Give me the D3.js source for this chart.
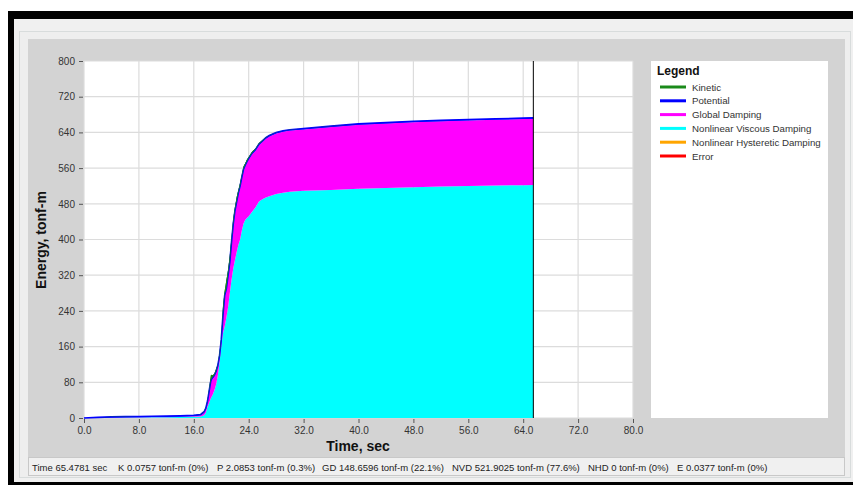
<!DOCTYPE html>
<html>
<head>
<meta charset="utf-8">
<script src="https://cdn.jsdelivr.net/npm/d3@7"></script>
<style>
  html, body { margin: 0; padding: 0; background: #ffffff; }
  svg { display: block; font-family: "Liberation Sans", Arial, sans-serif; }
</style>
</head>
<body>
<svg id="chart" width="853" height="485"></svg>
<script>
// ---------------- data ----------------
const time = [0,2,4,6,8,10,12,14,16,17,17.5,17.75,18,18.25,18.5,18.75,19,19.25,19.5,19.75,20,20.25,20.5,20.75,21,21.25,21.5,21.75,22,22.25,22.5,22.75,23,23.25,23.5,23.75,24,24.5,25,25.5,26,26.5,27,28,29,30,32,36,40,44,48,52,56,60,64,65.4781];
// Nonlinear Viscous Damping (cumulative, tonf-m)
const nvd = [0,0.3,0.6,0.9,1.2,1.5,1.8,2.2,2.8,3.5,6,12,25,35,45,52,62,75,95,125,160,190,205,225,249,280,310,335,354,372,388,400,420,436,444,448,452,462,472,485,490,494,497,502,505,507,509,511,514,515.5,517,518.5,520,521,521.7,521.9025];
// Global Damping
const gd = [0,0.2,0.4,0.6,0.5,0.5,0.7,0.8,1.0,2.0,5,7,9,23,36,36,30,26,19,11,11,36,66,61,67,66,81,96,107,109,113,116,116,118,119,124,127,129,127,126,128.5,131.5,133.8,135.5,136.5,137,137.5,140.9,142.9,144.4,145.9,146.4,146.9,147.4,148.2,148.6596];
// Potential
const pot = [0,1,1.5,1.5,1.8,2,2,2,2.2,2.5,3,3,4,4,4,4,4,4,4,4,4,4,4,4,4,4,4,4,4,4,4,4,4,4,4,3,3,3,3,3,2.5,2.5,2.2,2.1,2.1,2.1,2.1,2.1,2.1,2.1,2.1,2.1,2.1,2.1,2.1,2.0853];
// Kinetic
const kin = [0,0.1,0.1,0.1,0.1,0.1,0.1,0.1,0.2,0.5,1,2,3,6,12,4,3,5,3,8,6,18,10,20,12,15,10,12,8,10,6,7,5,6,4,4,3,3,2,2,1.5,1,0.8,0.5,0.3,0.3,0.2,0.15,0.1,0.1,0.1,0.1,0.1,0.08,0.08,0.0757];
// Nonlinear Hysteretic Damping
const nhd = time.map(() => 0);
// Error
const err = [0,0,0,0,0,0,0,0,0,0.001,0.002,0.003,0.005,0.008,0.01,0.012,0.014,0.016,0.018,0.02,0.022,0.024,0.025,0.026,0.027,0.028,0.029,0.03,0.03,0.031,0.031,0.032,0.032,0.033,0.033,0.033,0.034,0.034,0.034,0.035,0.035,0.035,0.035,0.036,0.036,0.036,0.036,0.036,0.037,0.037,0.037,0.037,0.0377,0.0377,0.0377,0.0377];

const xTicks = [0,8,16,24,32,40,48,56,64,72,80];
const yTicks = [0,80,160,240,320,400,480,560,640,720,800];
const legendLabels = ["Kinetic","Potential","Global Damping","Nonlinear Viscous Damping","Nonlinear Hysteretic Damping","Error"];
const legendColors = ["#1a8a1a","#0000ff","#ff00ff","#00ffff","#ffa500","#ff0000"];
const statusItems = ["Time 65.4781 sec","K 0.0757 tonf-m (0%)","P 2.0853 tonf-m (0.3%)","GD 148.6596 tonf-m (22.1%)","NVD 521.9025 tonf-m (77.6%)","NHD 0 tonf-m (0%)","E 0.0377 tonf-m (0%)"];
const statusX = [32,118,217,322,452,588,677];
const endTime = 65.4781;

// ---------------- frame ----------------
const svg = d3.select("#chart");
svg.append("rect").attr("x",8).attr("y",11).attr("width",845).attr("height",474).attr("fill","#000");
svg.append("rect").attr("x",14).attr("y",19).attr("width",839).attr("height",463).attr("fill","#f0f0f0");
svg.append("rect").attr("x",19.5).attr("y",31.5).attr("width",831).attr("height",446).attr("fill","#eeeeee").attr("stroke","#d8dcdc");
svg.append("rect").attr("x",28).attr("y",39).attr("width",817).attr("height",418).attr("fill","#d3d3d3");
// status bar
svg.append("rect").attr("x",28.5).attr("y",457.5).attr("width",816).attr("height",18).attr("fill","#f0f0f0").attr("stroke","#c8c8c8");

// ---------------- scales ----------------
const L = 84, R = 633, T = 61, B = 418;
const x = d3.scaleLinear().domain([0,80]).range([L,R]);
const y = d3.scaleLinear().domain([0,800]).range([B,T]);

svg.append("rect").attr("x",L).attr("y",T).attr("width",R-L).attr("height",B-T).attr("fill","#fff");

// grid
svg.append("g").selectAll("line").data(xTicks).join("line")
  .attr("x1",d=>x(d)).attr("x2",d=>x(d)).attr("y1",T).attr("y2",B)
  .attr("stroke","#dcdcdc").attr("stroke-width",1.2);
svg.append("g").selectAll("line").data(yTicks).join("line")
  .attr("x1",L).attr("x2",R).attr("y1",d=>y(d)).attr("y2",d=>y(d))
  .attr("stroke","#dcdcdc").attr("stroke-width",1.2);

// ---------------- stacked areas ----------------
const rows = time.map((t,i)=>({t, nvd:nvd[i], gd:gd[i], pot:pot[i], kin:kin[i], nhd:nhd[i], err:err[i]}));
const keys = ["nvd","gd","pot","kin","nhd","err"];
const colorOf = {nvd:"#00ffff", gd:"#ff00ff", pot:"#0000ff", kin:"#1a8a1a", nhd:"#ffa500", err:"#ff0000"};
const series = d3.stack().keys(keys)(rows);
const area = d3.area().x(d=>x(d.data.t)).y0(d=>y(d[0])).y1(d=>y(d[1]));
svg.append("g").selectAll("path").data(series).join("path")
  .attr("d",area).attr("fill",s=>colorOf[s.key]).attr("stroke","none");
// potential top edge line
const potSeries = series.find(s=>s.key==="pot");
svg.append("path").datum(potSeries)
  .attr("d", d3.line().x(d=>x(d.data.t)).y(d=>y(d[1])))
  .attr("fill","none").attr("stroke","#0000ff").attr("stroke-width",1.6);
// kinetic spikes on top
const kinSeries = series.find(s=>s.key==="kin");
svg.append("path").datum(kinSeries)
  .attr("d", d3.area().x(d=>x(d.data.t)).y0(d=>y(d[0])).y1(d=>y(d[1])))
  .attr("fill","#1a8a1a");

// current time marker
svg.append("line").attr("x1",x(endTime)).attr("x2",x(endTime)).attr("y1",T).attr("y2",B)
  .attr("stroke","#000").attr("stroke-width",1);

// ---------------- axes ----------------
const yAxis = svg.append("g").attr("transform",`translate(${L-1},0)`)
  .call(d3.axisLeft(y).tickValues(yTicks).tickSize(4).tickPadding(4).tickFormat(d3.format("d")));
const xAxis = svg.append("g").attr("transform",`translate(0,${B+1})`)
  .call(d3.axisBottom(x).tickValues(xTicks).tickSize(4).tickPadding(4).tickFormat(d3.format(".1f")));
[yAxis,xAxis].forEach(g=>{
  g.select(".domain").remove();
  g.selectAll(".tick line").attr("stroke","#555");
  g.selectAll(".tick text").attr("fill","#333").attr("font-size","10px").attr("font-family","'Liberation Sans', Arial, sans-serif");
});

svg.append("text").attr("x",358).attr("y",451).attr("text-anchor","middle")
  .attr("font-size","14px").attr("font-weight","bold").attr("fill","#111").text("Time, sec");
svg.append("text").attr("transform","translate(46,240) rotate(-90)").attr("text-anchor","middle")
  .attr("font-size","14px").attr("font-weight","bold").attr("fill","#111").text("Energy, tonf-m");

// ---------------- legend ----------------
svg.append("rect").attr("x",651).attr("y",61).attr("width",177).attr("height",357).attr("fill","#fff");
svg.append("text").attr("x",657).attr("y",75).attr("font-size","12px").attr("font-weight","bold").attr("fill","#111").text("Legend");
const lg = svg.append("g").selectAll("g").data(legendLabels).join("g")
  .attr("transform",(d,i)=>`translate(0,${87+i*13.8})`);
lg.append("line").attr("x1",660).attr("x2",686).attr("y1",0).attr("y2",0)
  .attr("stroke",(d,i)=>legendColors[i]).attr("stroke-width",3);
lg.append("text").attr("x",692).attr("y",3.5).attr("font-size","9.7px").attr("fill","#333").text(d=>d);

// ---------------- status bar ----------------
svg.append("g").selectAll("text").data(statusItems).join("text")
  .attr("x",(d,i)=>statusX[i]).attr("y",470.5).attr("font-size","9.5px").attr("fill","#222").text(d=>d);
</script>
</body>
</html>
